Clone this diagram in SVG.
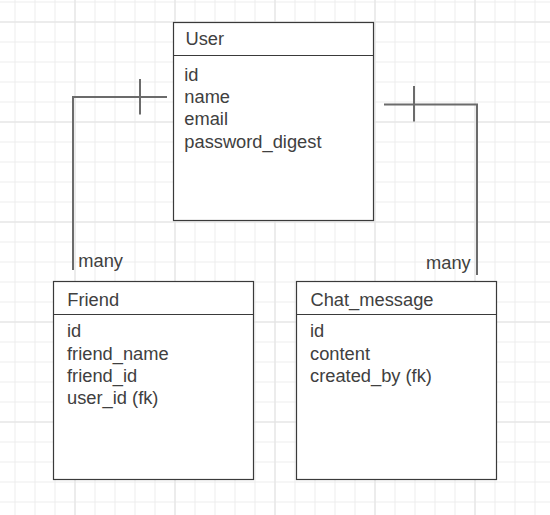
<svg xmlns="http://www.w3.org/2000/svg" width="550" height="515" viewBox="0 0 550 515">
<defs>
<pattern id="minor" x="14.5" y="1.5" width="20" height="20" patternUnits="userSpaceOnUse">
<path d="M0.5 0V20M0 0.5H20" fill="none" stroke="#ececec" stroke-width="1"/>
</pattern>
<pattern id="major" x="74.5" y="21.5" width="100" height="100" patternUnits="userSpaceOnUse">
<path d="M0.5 0V100M0 0.5H100" fill="none" stroke="#e2e2e2" stroke-width="1"/>
</pattern>
</defs>
<style>
.box{fill:#fff;stroke:#3a3a3a;stroke-width:1.2}
.div{stroke:#3a3a3a;stroke-width:1.2}
.t{font-family:"Liberation Sans",Arial,sans-serif;font-size:18.3px;fill:#404040}
.c{fill:none;stroke:#6b6b6b;stroke-width:2}
</style>
<rect width="550" height="515" fill="#fff"/>
<rect width="550" height="515" fill="url(#minor)"/>
<rect width="550" height="515" fill="url(#major)"/>
<g id="connectors">
<path class="c" d="M167 97H73V270"/>
<path class="c" d="M140 79V114.5"/>
<text class="t" x="78.3" y="266.5">many</text>
<path class="c" d="M384 104.5H477V275"/>
<path class="c" d="M414 86V121.5"/>
<text class="t" x="426" y="269">many</text>
</g>
<g id="user">
<rect class="box" x="173.5" y="22.5" width="200" height="198"/>
<line class="div" x1="173.5" y1="55.5" x2="373.5" y2="55.5"/>
<text class="t" x="185.5" y="45">User</text>
<text class="t" x="184.3" y="80.7">id</text>
<text class="t" x="184.3" y="103">name</text>
<text class="t" x="184.3" y="125.3">email</text>
<text class="t" x="184.3" y="147.6">password_digest</text>
</g>
<g id="friend">
<rect class="box" x="53.5" y="281.5" width="200" height="198"/>
<line class="div" x1="53.5" y1="314.5" x2="253.5" y2="314.5"/>
<text class="t" x="67.3" y="306">Friend</text>
<text class="t" x="67" y="337.3">id</text>
<text class="t" x="67" y="359.6">friend_name</text>
<text class="t" x="67" y="381.9">friend_id</text>
<text class="t" x="67" y="404.2">user_id (fk)</text>
</g>
<g id="chat_message">
<rect class="box" x="296.5" y="281.5" width="200" height="198"/>
<line class="div" x1="296.5" y1="314.5" x2="496.5" y2="314.5"/>
<text class="t" x="310.5" y="306">Chat_message</text>
<text class="t" x="310" y="337.3">id</text>
<text class="t" x="310" y="359.6">content</text>
<text class="t" x="310" y="381.9">created_by (fk)</text>
</g>
</svg>
